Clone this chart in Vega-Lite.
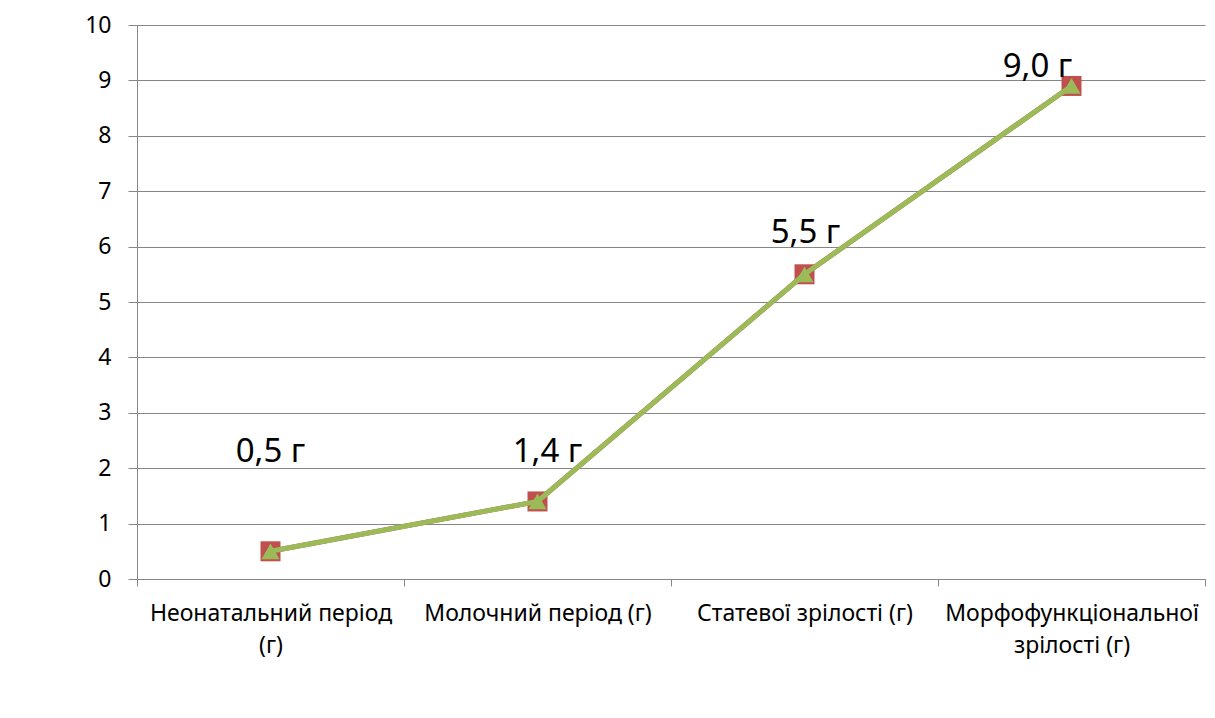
{
  "$schema": "https://vega.github.io/schema/vega-lite/v6.json",
  "width": 1068,
  "height": 554,
  "autosize": {"type": "none"},
  "padding": {"left": 137, "top": 25, "right": 10, "bottom": 139},
  "background": "white",
  "config": {
    "view": {"stroke": null},
    "font": "Noto Sans"
  },
  "data": {
    "values": [
      {"period": "Неонатальний період (г)", "value": 0.5, "label": "0,5 г"},
      {"period": "Молочний період (г)", "value": 1.4, "label": "1,4 г"},
      {"period": "Статевої зрілості (г)", "value": 5.5, "label": "5,5 г"},
      {"period": "Морфофункціональної зрілості (г)", "value": 8.9, "label": "9,0 г"}
    ]
  },
  "encoding": {
    "x": {
      "field": "period",
      "type": "nominal",
      "sort": null,
      "scale": {"paddingInner": 0, "paddingOuter": 0},
      "axis": {
        "title": null,
        "labelAngle": 0,
        "labelFontSize": 23,
        "labelColor": "#000000",
        "labelFont": "Noto Sans",
        "labelLineHeight": 32,
        "labelPadding": 16,
        "labelLimit": 400,
        "tickBand": "extent",
        "tickSize": 7,
        "tickColor": "#868686",
        "domainColor": "#868686",
        "grid": false,
        "labelExpr": "datum.label == 'Неонатальний період (г)' ? ['Неонатальний період', '(г)'] : datum.label == 'Морфофункціональної зрілості (г)' ? ['Морфофункціональної', 'зрілості (г)'] : datum.label"
      }
    },
    "y": {
      "field": "value",
      "type": "quantitative",
      "scale": {"domain": [0, 10], "nice": false},
      "axis": {
        "title": null,
        "values": [0, 1, 2, 3, 4, 5, 6, 7, 8, 9, 10],
        "labelFontSize": 23,
        "labelColor": "#000000",
        "labelPadding": 17,
        "tickSize": 9,
        "tickColor": "#868686",
        "domainColor": "#868686",
        "gridColor": "#868686",
        "gridWidth": 1
      }
    }
  },
  "layer": [
    {"mark": {"type": "line", "color": "#C0504D", "strokeWidth": 5}},
    {"mark": {"type": "point", "shape": "square", "filled": true, "color": "#C0504D", "size": 400, "opacity": 1}},
    {"mark": {"type": "line", "color": "#9BBB59", "strokeWidth": 5}},
    {"mark": {"type": "point", "shape": "triangle-up", "filled": true, "color": "#9BBB59", "size": 330, "opacity": 1}},
    {
      "transform": [{"filter": "datum.label == '0,5 г'"}],
      "mark": {"type": "text", "fontSize": 33, "baseline": "alphabetic", "align": "center", "dy": -89, "dx": 0, "color": "#000000"},
      "encoding": {"text": {"field": "label"}}
    },
    {
      "transform": [{"filter": "datum.label == '1,4 г'"}],
      "mark": {"type": "text", "fontSize": 33, "baseline": "alphabetic", "align": "center", "dy": -39, "dx": 10, "color": "#000000"},
      "encoding": {"text": {"field": "label"}}
    },
    {
      "transform": [{"filter": "datum.label == '5,5 г'"}],
      "mark": {"type": "text", "fontSize": 33, "baseline": "alphabetic", "align": "center", "dy": -31, "dx": 1, "color": "#000000"},
      "encoding": {"text": {"field": "label"}}
    },
    {
      "transform": [{"filter": "datum.label == '9,0 г'"}],
      "mark": {"type": "text", "fontSize": 33, "baseline": "alphabetic", "align": "center", "dy": -9, "dx": -34, "color": "#000000"},
      "encoding": {"text": {"field": "label"}}
    }
  ]
}
